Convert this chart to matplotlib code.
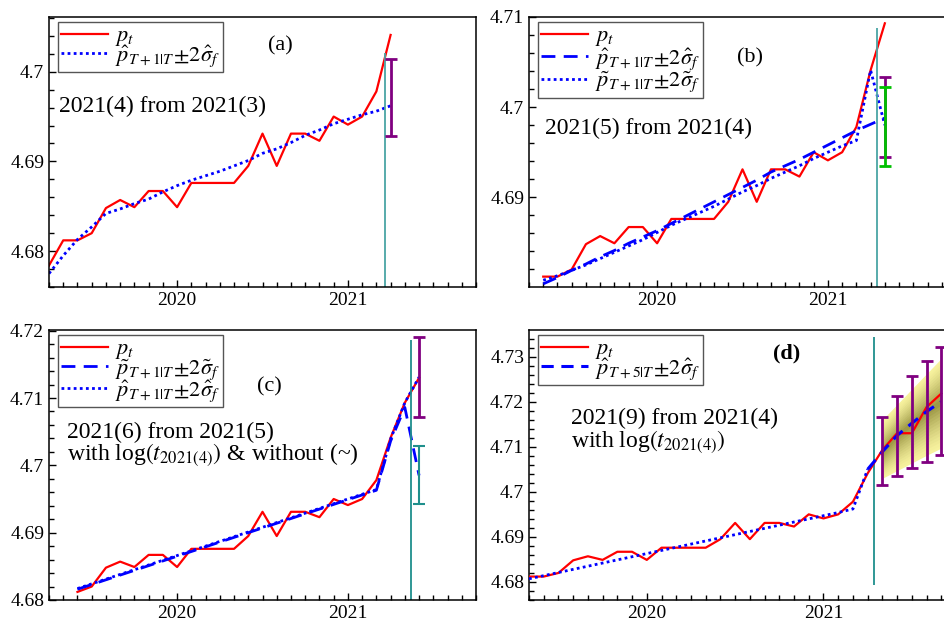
import numpy as np
import pandas as pd
import matplotlib
matplotlib.use("Agg")
import matplotlib.pyplot as plt
from matplotlib.ticker import MultipleLocator

plt.rcParams['font.family'] = ['Liberation Serif', 'DejaVu Serif']
plt.rcParams['mathtext.fontset'] = 'stix'

# monthly log price p_t, 2019(4) .. 2021(9)
dates = pd.date_range('2019-04-01', '2021-09-01', freq='MS')
p_t = [4.6784, 4.6812, 4.6812, 4.6820, 4.6848, 4.6857, 4.6849, 4.6867, 4.6867, 4.6849,
       4.6876, 4.6876, 4.6876, 4.6876, 4.6895, 4.6931, 4.6895, 4.6931, 4.6931, 4.6923,
       4.6950, 4.6941, 4.6950, 4.6978, 4.7041, 4.7093, 4.7130, 4.7130, 4.7188, 4.7218]

# (a) fitted + 1-step forecast, 2019(4) .. 2021(4)
fit_a = [4.6775, 4.6795, 4.6813, 4.6827, 4.6842, 4.6847, 4.6853, 4.6858, 4.6866, 4.6873,
         4.6879, 4.6884, 4.6889, 4.6895, 4.6901, 4.6909, 4.6914, 4.6921, 4.6929, 4.6935,
         4.6942, 4.6947, 4.6952, 4.6956, 4.6962]
band_a = (4.6928, 4.7014)
vline_a = 2021.215

# (b) 2019(5) .. 2021(5)
hat_b = [4.6804, 4.6811, 4.6819, 4.6826, 4.6834, 4.6841, 4.6849, 4.6856, 4.6863, 4.6871,
         4.6879, 4.6887, 4.6895, 4.6903, 4.6911, 4.6919, 4.6928, 4.6935, 4.6942, 4.6950,
         4.6958, 4.6966, 4.6974, 4.6981, 4.6988]
tilde_b = [4.6808, 4.6813, 4.6819, 4.6825, 4.6832, 4.6839, 4.6846, 4.6853, 4.6861, 4.6869,
           4.6876, 4.6883, 4.6890, 4.6898, 4.6906, 4.6913, 4.6921, 4.6928, 4.6935, 4.6943,
           4.6950, 4.6957, 4.6963, 4.7041, 4.6980]
band_b_hat = (4.6945, 4.7033)
band_b_tilde = (4.6935, 4.7022)
vline_b = 2021.29

# (c) 2019(6) .. 2021(6)
tilde_c = [4.6816, 4.6823, 4.6830, 4.6837, 4.6844, 4.6851, 4.6858, 4.6865, 4.6872, 4.6879,
           4.6886, 4.6893, 4.6900, 4.6907, 4.6914, 4.6921, 4.6928, 4.6935, 4.6942, 4.6949,
           4.6956, 4.6963, 4.7036, 4.7086, 4.6985]
hat_c = [4.6817, 4.6824, 4.6831, 4.6838, 4.6845, 4.6852, 4.6859, 4.6866, 4.6873, 4.6880,
         4.6887, 4.6894, 4.6901, 4.6908, 4.6915, 4.6922, 4.6929, 4.6936, 4.6943, 4.6950,
         4.6957, 4.6964, 4.7039, 4.7093, 4.7131]
band_c_hat = (4.7072, 4.7190)
band_c_tilde = (4.6942, 4.7029)
vline_c = 2021.367

# (d) fitted 2019(5) .. 2021(4), forecasts 2021(4) .. 2021(9)
fit_d = [4.6807, 4.6814, 4.6821, 4.6828, 4.6835, 4.6842, 4.6849, 4.6856, 4.6863, 4.6870,
         4.6877, 4.6884, 4.6891, 4.6898, 4.6905, 4.6912, 4.6919, 4.6926, 4.6933, 4.6940,
         4.6947, 4.6954, 4.6962, 4.7050]
fc_d = [4.7050, 4.7089, 4.7125, 4.7152, 4.7178, 4.7200]
bar_d_lo = [4.7015, 4.7036, 4.7053, 4.7067, 4.7081]
bar_d_hi = [4.7165, 4.7213, 4.7256, 4.7290, 4.7322]
fan_d_lo = [4.7030, 4.7047, 4.7064, 4.7081, 4.7097]
fan_d_hi = [4.7160, 4.7194, 4.7228, 4.7262, 4.7296]
vline_d = 2021.288

x = dates.year + (dates.month - 1) / 12.0
p_t = np.array(p_t)

RED = '#ff0000'
BLUE = '#0000ff'
PURPLE = '#800080'
GREEN = '#00c000'
TEAL1 = '#4aa5a5'
TEAL2 = '#1f8f8c'

fig = plt.figure(figsize=(9.44, 6.21), dpi=100)
W, H = 427 / 944, 270 / 621
ax_a = fig.add_axes([49 / 944, 1 - 287 / 621, W, H])
ax_b = fig.add_axes([529 / 944, 1 - 287 / 621, W, H])
ax_c = fig.add_axes([49 / 944, 1 - 600 / 621, W, H])
ax_d = fig.add_axes([529 / 944, 1 - 600 / 621, W, H])


def style(ax, ylim):
    ax.set_ylim(*ylim)
    ax.xaxis.set_major_locator(MultipleLocator(1))
    ax.xaxis.set_minor_locator(MultipleLocator(1 / 12))
    ax.yaxis.set_major_locator(MultipleLocator(0.01))
    ax.yaxis.set_minor_locator(MultipleLocator(0.002))
    ax.xaxis.set_major_formatter(plt.FuncFormatter(lambda v, _: f"{v:.0f}"))
    ax.yaxis.set_major_formatter(plt.FuncFormatter(lambda v, _: f"{v:.3f}".rstrip('0')))
    ax.tick_params(which='both', direction='in', labelsize=14, width=1.0)
    ax.tick_params(which='major', length=5)
    ax.tick_params(which='minor', length=3.5)
    for s in ax.spines.values():
        s.set_linewidth(1.1)


def legend(ax, sp=-0.25):
    ax.legend(loc='upper left', bbox_to_anchor=(0.021, 0.98), borderaxespad=0,
              fancybox=False, edgecolor='#555555', framealpha=1, fontsize=16,
              handlelength=2.1, handletextpad=0.3, labelspacing=sp, borderpad=0.15)


lab_p = r'$p_t$'
lab_hat1 = r'$\hat{p}_{T+1|T}\!\pm\!2\hat{\sigma}_f$'
lab_tilde1 = r'$\tilde{p}_{T+1|T}\!\pm\!2\tilde{\sigma}_f$'
lab_hat5 = r'$\hat{p}_{T+5|T}\!\pm\!2\hat{\sigma}_f$'

# ---- (a)
ax = ax_a
ax.set_xlim(2019.25, 2021.75)
style(ax, (4.6760, 4.7061))
ax.plot(x[0:25], p_t[0:25], color=RED, lw=1.6, label=lab_p)
ax.plot(x[0:25], fit_a, color=BLUE, lw=2.0, ls=(0, (1, 1.2)), label=lab_hat1)
ax.vlines(vline_a, 4.6760, 4.7021, color=TEAL1, lw=1.3)
xa = x[24]
ax.errorbar(xa, np.mean(band_a), yerr=[[np.mean(band_a) - band_a[0]], [band_a[1] - np.mean(band_a)]],
            fmt='none', ecolor=PURPLE, elinewidth=2, capsize=4.5, capthick=2)
legend(ax)
ax.text(0.543, 0.893, '(a)', transform=ax.transAxes, fontsize=16, ha='center', va='center')
ax.text(0.023, 0.667, '2021(4) from 2021(3)', transform=ax.transAxes, fontsize=17, va='center')

# ---- (b)
ax = ax_b
ax.set_xlim(2019.25, 2021.75)
style(ax, (4.68005, 4.7100))
ax.plot(x[1:26], p_t[1:26], color=RED, lw=1.6, label=lab_p)
ax.plot(x[1:26], hat_b, color=BLUE, lw=2.0, ls=(0, (5, 3)), label=lab_hat1)
ax.plot(x[1:26], tilde_b, color=BLUE, lw=2.0, ls=(0, (1, 1.2)), label=lab_tilde1)
ax.vlines(vline_b, 4.68, 4.7088, color=TEAL1, lw=1.3)
xb = x[25]
for band, col in ((band_b_hat, PURPLE), (band_b_tilde, GREEN)):
    m = np.mean(band)
    ax.errorbar(xb, m, yerr=[[m - band[0]], [band[1] - m]], fmt='none', ecolor=col,
                elinewidth=2, capsize=4.5, capthick=2)
legend(ax, -0.1)
ax.text(0.518, 0.848, '(b)', transform=ax.transAxes, fontsize=16, ha='center', va='center')
ax.text(0.037, 0.589, '2021(5) from 2021(4)', transform=ax.transAxes, fontsize=17, va='center')

# ---- (c)
ax = ax_c
ax.set_xlim(2019.25, 2021.75)
style(ax, (4.6800, 4.7201))
ax.plot(x[2:27], p_t[2:27], color=RED, lw=1.6, label=lab_p)
ax.plot(x[2:27], tilde_c, color=BLUE, lw=2.0, ls=(0, (5, 3)), label=lab_tilde1)
ax.plot(x[2:27], hat_c, color=BLUE, lw=2.0, ls=(0, (1, 1.2)), label=lab_hat1)
ax.vlines(vline_c, 4.68, 4.7186, color=TEAL2, lw=1.3)
xc = x[26]
for band, col in ((band_c_hat, PURPLE), (band_c_tilde, TEAL2)):
    m = np.mean(band)
    lw = 2 if col == PURPLE else 1.5
    ax.errorbar(xc, m, yerr=[[m - band[0]], [band[1] - m]], fmt='none', ecolor=col,
                elinewidth=lw, capsize=4.5, capthick=lw)
legend(ax, -0.18)
ax.text(0.515, 0.79, '(c)', transform=ax.transAxes, fontsize=16, ha='center', va='center')
ax.text(0.043, 0.62, '2021(6) from 2021(5)', transform=ax.transAxes, fontsize=17, va='center')
ax.text(0.043, 0.537, r'with log$(t_{2021(4)})$ & without (~)', transform=ax.transAxes,
        fontsize=17, va='center')

# ---- (d)
ax = ax_d
ax.set_xlim(2019 + 4 / 12, 2021.75)
style(ax, (4.6760, 4.7359))
xf = x[25:30]
ctr = np.array(fc_d[1:])
lo, hi = np.array(fan_d_lo), np.array(fan_d_hi)
c_edge = np.array([0.97, 0.95, 0.62])
c_mid = np.array([0.62, 0.60, 0.28])
n = 14
for k in range(n):
    f = 1 - k / n
    col = c_edge + (c_mid - c_edge) * (k / (n - 1)) ** 1.3
    ax.fill_between(xf, ctr - f * (ctr - lo), ctr + f * (hi - ctr), color=col, lw=0, zorder=1)
ax.plot(x[1:30], p_t[1:30], color=RED, lw=1.6, label=lab_p, zorder=3)
ax.plot(x[1:25], fit_d, color=BLUE, lw=2.0, ls=(0, (1, 1.2)), zorder=3)
ax.plot(x[24:30], fc_d, color=BLUE, lw=2.2, ls=(0, (4, 2.5)), label=lab_hat5, zorder=4)
ax.vlines(vline_d, 4.6793, 4.7343, color=TEAL2, lw=1.3)
bl, bh = np.array(bar_d_lo), np.array(bar_d_hi)
bm = (bl + bh) / 2
ax.errorbar(xf, bm, yerr=[bm - bl, bh - bm], fmt='none', ecolor=PURPLE,
            elinewidth=2, capsize=4.5, capthick=2, zorder=5)
legend(ax)
ax.text(0.603, 0.914, '(d)', transform=ax.transAxes, fontsize=16, fontweight='bold',
        ha='center', va='center')
ax.text(0.0976, 0.673, '2021(9) from 2021(4)', transform=ax.transAxes, fontsize=17, va='center')
ax.text(0.0976, 0.586, r'with log$(t_{2021(4)})$', transform=ax.transAxes, fontsize=17,
        va='center')

fig.savefig('out.png', dpi=100)
